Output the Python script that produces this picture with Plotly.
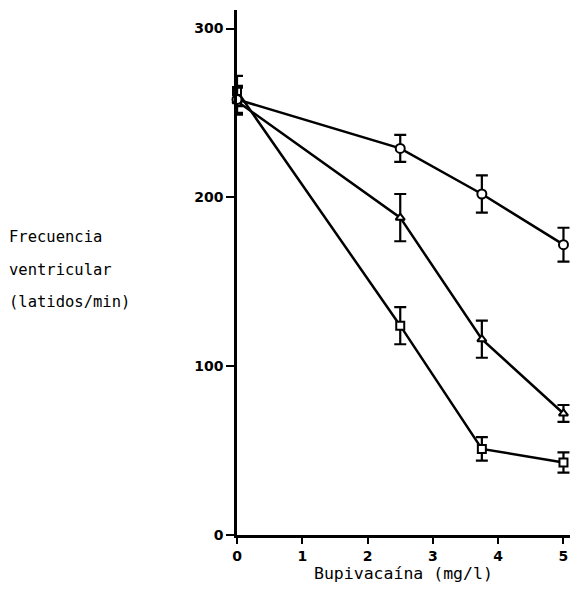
import plotly.graph_objects as go

dose = [0, 2.5, 3.75, 5]
circ_y = [258, 229, 202, 172]
circ_e = [8, 8, 11, 10]
tri_y = [257, 188, 116, 72]
tri_e = [8, 14, 11, 5]
sq_y = [263, 124, 51, 43]
sq_e = [9, 11, 7, 6]
ylabel_lines = ["Frecuencia", "ventricular", "(latidos/min)"]

fig = go.Figure()

def add(y, e, sym, size):
    fig.add_trace(go.Scatter(
        x=dose, y=y, mode="lines+markers",
        line=dict(color="black", width=2.5),
        marker=dict(symbol=sym, size=size, color="white",
                    line=dict(color="black", width=2)),
        error_y=dict(type="data", array=e, visible=True, color="black",
                     thickness=2.2, width=6),
        showlegend=False, cliponaxis=False))

add(sq_y, sq_e, "square", 8)
add(tri_y, tri_e, "triangle-up", 8)
add(circ_y, circ_e, "circle", 9)

tickfont = dict(family="DejaVu Sans", size=14, color="black", weight="bold")
annots = []
for i, t in enumerate(ylabel_lines):
    ypix = 237 + 32.5 * i
    annots.append(dict(text=t, xref="paper", yref="paper",
                       x=-0.691, y=(535 - ypix) / 525, xanchor="left", yanchor="middle",
                       showarrow=False,
                       font=dict(family="DejaVu Sans Mono", size=15.5, color="black")))
annots.append(dict(text="Bupivacaína (mg/l)", xref="paper", yref="paper",
                   x=0.5015, y=-0.074, xanchor="center", yanchor="middle",
                   showarrow=False,
                   font=dict(family="DejaVu Sans Mono", size=16.5, color="black")))

fig.update_layout(
    width=582, height=602,
    margin=dict(l=237, r=12, t=10, b=67),
    paper_bgcolor="white", plot_bgcolor="white",
    font=dict(family="DejaVu Sans Mono", color="black"),
    xaxis=dict(range=[0, 5.1], tickvals=[0, 1, 2, 3, 4, 5],
               ticks="outside", ticklen=6, tickwidth=2, tickcolor="black",
               showline=True, linecolor="black", linewidth=2.5,
               showgrid=False, zeroline=False, tickfont=tickfont),
    yaxis=dict(range=[0, 311], tickvals=[0, 100, 200, 300],
               ticks="outside", ticklen=8, tickwidth=2, tickcolor="black",
               showline=True, linecolor="black", linewidth=2.5,
               showgrid=False, zeroline=False, tickfont=tickfont),
    annotations=annots,
)

fig.write_html("out.html")
